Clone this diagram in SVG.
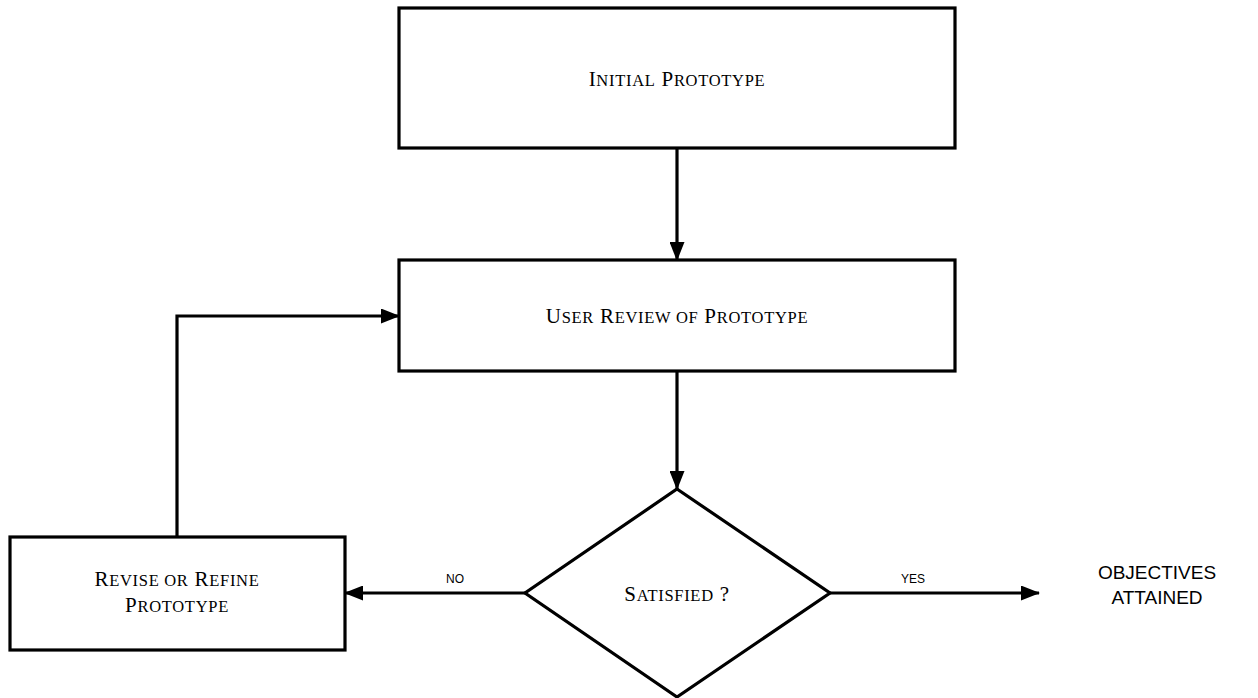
<svg xmlns="http://www.w3.org/2000/svg" width="1258" height="698" viewBox="0 0 1258 698">
  <style>
    .box { fill: #ffffff; stroke: #000000; stroke-width: 3.2; }
    .edge { fill: none; stroke: #000000; stroke-width: 3.2; }
    .lbl { font-family: "Liberation Serif", "Times New Roman", serif; fill: #000000; text-anchor: middle; letter-spacing: 0.7px; }
    .cap { font-size: 21px; }
    .sc { font-size: 16.5px; }
    .tag { font-family: "Liberation Sans", Arial, sans-serif; font-size: 12px; fill: #000000; text-anchor: middle; }
    .goal { font-family: "Liberation Sans", Arial, sans-serif; font-size: 19px; fill: #000000; text-anchor: middle; }
  </style>
  <defs>
    <marker id="arrow" viewBox="0 0 19 15" refX="18" refY="7.5" markerWidth="19" markerHeight="15" markerUnits="userSpaceOnUse" orient="auto">
      <path d="M0,0 L19,7.5 L0,15 Z" fill="#000000"/>
    </marker>
  </defs>
  <rect width="1258" height="698" fill="#ffffff"/>

  <g id="connectors">
    <line class="edge" x1="677" y1="148" x2="677" y2="260" marker-end="url(#arrow)"/>
    <line class="edge" x1="677" y1="371" x2="677" y2="489" marker-end="url(#arrow)"/>
    <line class="edge" x1="525" y1="593" x2="345" y2="593" marker-end="url(#arrow)"/>
    <line class="edge" x1="830" y1="593" x2="1039" y2="593" marker-end="url(#arrow)"/>
    <polyline class="edge" points="177,537 177,316 399,316" marker-end="url(#arrow)"/>
    <text class="tag" x="455" y="583">NO</text>
    <text class="tag" x="913" y="583">YES</text>
  </g>

  <g id="initial-prototype">
    <rect class="box" x="399" y="8" width="556" height="140"/>
    <text class="lbl" x="677" y="86"><tspan class="cap">I</tspan><tspan class="sc">NITIAL</tspan><tspan class="cap"> P</tspan><tspan class="sc">ROTOTYPE</tspan></text>
  </g>

  <g id="user-review">
    <rect class="box" x="399" y="260" width="556" height="111"/>
    <text class="lbl" x="677" y="323"><tspan class="cap">U</tspan><tspan class="sc">SER</tspan><tspan class="cap"> R</tspan><tspan class="sc">EVIEW OF</tspan><tspan class="cap"> P</tspan><tspan class="sc">ROTOTYPE</tspan></text>
  </g>

  <g id="satisfied">
    <polygon class="box" points="677,489 830,593 677,697 525,593"/>
    <text class="lbl" x="677" y="601"><tspan class="cap">S</tspan><tspan class="sc">ATISFIED</tspan><tspan class="cap"> ?</tspan></text>
  </g>

  <g id="revise">
    <rect class="box" x="10" y="537" width="335" height="113"/>
    <text class="lbl" x="177" y="586"><tspan class="cap">R</tspan><tspan class="sc">EVISE OR</tspan><tspan class="cap"> R</tspan><tspan class="sc">EFINE</tspan></text>
    <text class="lbl" x="177" y="612"><tspan class="cap">P</tspan><tspan class="sc">ROTOTYPE</tspan></text>
  </g>

  <g id="objectives">
    <text class="goal" x="1157" y="579">OBJECTIVES</text>
    <text class="goal" x="1157" y="604">ATTAINED</text>
  </g>
</svg>
